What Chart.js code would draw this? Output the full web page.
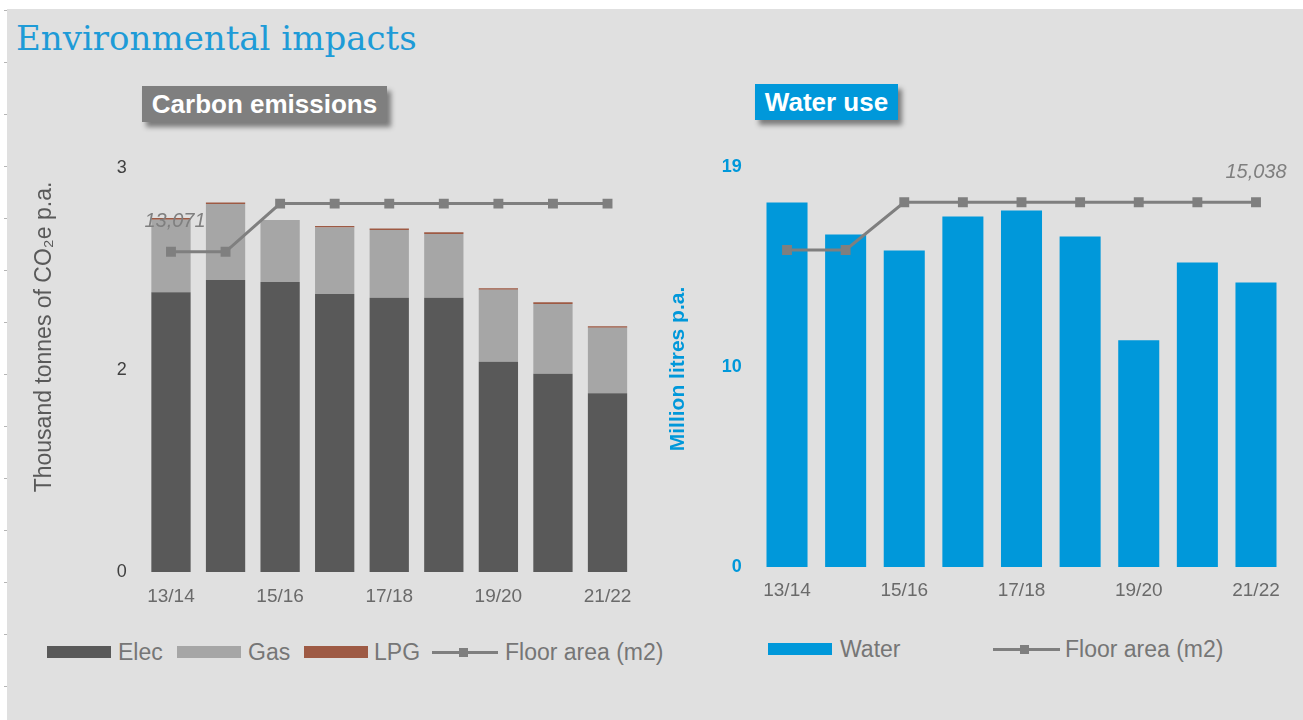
<!DOCTYPE html>
<html><head><meta charset="utf-8">
<script src="https://cdn.jsdelivr.net/npm/chart.js@4.4.0/dist/chart.umd.min.js"></script>
<style>
body{margin:0;width:1303px;height:720px;background:#fff;overflow:hidden;font-family:"Liberation Sans",Arial,sans-serif;position:relative}
#bg{position:absolute;left:7px;top:9px;right:0;bottom:0;background:#e0e0e0}
.tk{position:absolute;left:4px;width:3px;height:1px;background:#b5b5b5}
#title{position:absolute;left:16px;top:18px;font-family:"DejaVu Serif",serif;font-size:34px;line-height:40px;color:#1e9bd7;white-space:nowrap}
.hdr{position:absolute;color:#fff;font-weight:bold;box-shadow:4px 5px 5px rgba(0,0,0,0.45);white-space:nowrap;text-align:center;font-size:26px;height:36px;line-height:36px}
#h1{left:142px;top:86px;width:245px;background:#7f7f7f}
#h2{left:755px;top:84px;width:143px;background:#0098da}
canvas{position:absolute}
.lt{position:absolute;font-size:23px;line-height:24px;color:#767676;white-space:nowrap}
.sw{position:absolute;height:12px;width:64px}
.ln{position:absolute;height:3px;background:#7f7f7f}
.mk{position:absolute;width:9px;height:9px;background:#7f7f7f}
</style>
</head><body>
<div id="bg"></div>
<div id="ticks"></div>
<div id="title">Environmental impacts</div>
<div class="hdr" id="h1">Carbon emissions</div>
<div class="hdr" id="h2">Water use</div>
<canvas id="c1" width="660" height="480" style="left:0;top:140px"></canvas>
<canvas id="c2" width="643" height="480" style="left:660px;top:140px"></canvas>

<!-- left legend -->
<div class="sw" style="left:47px;top:646px;background:#595959"></div><div class="lt" style="left:118px;top:640px">Elec</div>
<div class="sw" style="left:177px;top:646px;background:#a6a6a6"></div><div class="lt" style="left:248px;top:640px">Gas</div>
<div class="sw" style="left:304px;top:646px;background:#9e5a44"></div><div class="lt" style="left:374px;top:640px">LPG</div>
<div class="ln" style="left:432px;top:651px;width:66px"></div><div class="mk" style="left:459px;top:648px"></div><div class="lt" style="left:505px;top:640px">Floor area (m2)</div>
<!-- right legend -->
<div class="sw" style="left:768px;top:643px;background:#0098da"></div><div class="lt" style="left:840px;top:637px">Water</div>
<div class="ln" style="left:993px;top:648px;width:67px"></div><div class="mk" style="left:1020px;top:645px"></div><div class="lt" style="left:1065px;top:637px">Floor area (m2)</div>

<script>
const years = ['13/14','14/15','15/16','16/17','17/18','18/19','19/20','20/21','21/22'];
const elec = [2.076,2.168,2.153,2.064,2.035,2.035,1.561,1.472,1.326];
const gas = [0.539,0.563,0.460,0.492,0.503,0.474,0.533,0.518,0.486];
const lpg = [0.012,0.012,0,0.012,0.012,0.012,0.012,0.012,0.012];
const floorArea = [13071,13071,15038,15038,15038,15038,15038,15038,15038];
const water = [17.30,15.79,15.03,16.64,16.92,15.69,10.77,14.46,13.51];
const carbonTickLabels = ['0','2','3'];
const waterTickLabels = ['0','10','19'];

// left edge row marks
(function(){
  const t = document.getElementById('ticks');
  for (let y = 10; y < 720; y += 52) {
    const d = document.createElement('div'); d.className = 'tk'; d.style.top = y + 'px'; t.appendChild(d);
  }
})();

Chart.defaults.font.family = '"Liberation Sans", Arial, sans-serif';
Chart.defaults.animation = false;

const lineLabelPlugin = {
  id: 'lineLabel',
  afterDatasetsDraw(chart, args, opts) {
    const meta = chart.getDatasetMeta(opts.dataset);
    const pt = meta.data[opts.index];
    const v = chart.data.datasets[opts.dataset].data[opts.index];
    const ctx = chart.ctx;
    ctx.save();
    ctx.font = 'italic 20px "Liberation Sans", Arial, sans-serif';
    ctx.fillStyle = '#7f7f7f';
    ctx.textAlign = 'center';
    ctx.textBaseline = 'middle';
    ctx.fillText(v.toLocaleString('en-US'), pt.x + (opts.dx || 0), pt.y - 30);
    ctx.restore();
  }
};
const yTitlePlugin = {
  id: 'yTitle',
  afterDraw(chart, args, opts) {
    if (!opts.text) return;
    const ctx = chart.ctx;
    ctx.save();
    ctx.translate(opts.x, opts.y);
    ctx.rotate(-Math.PI / 2);
    ctx.font = opts.font;
    ctx.fillStyle = opts.color;
    ctx.textAlign = 'center';
    ctx.textBaseline = 'middle';
    ctx.fillText(opts.text, 0, 0);
    ctx.restore();
  }
};

const floorDataset = (data) => ({
  type: 'line', label: 'Floor area (m2)', data, yAxisID: 'y2', order: 0,
  borderColor: '#7f7f7f', backgroundColor: '#7f7f7f', borderWidth: 3,
  pointStyle: 'rect', pointRadius: 7, pointHoverRadius: 7, pointBorderWidth: 0, tension: 0
});

new Chart(document.getElementById('c1'), {
  type: 'bar',
  data: {
    labels: years,
    datasets: [
      floorDataset(floorArea),
      {label: 'Elec', data: elec, backgroundColor: '#595959', order: 1},
      {label: 'Gas', data: gas, backgroundColor: '#a6a6a6', order: 1},
      {label: 'LPG', data: lpg, backgroundColor: '#9e5a44', order: 1}
    ]
  },
  options: {
    responsive: false, devicePixelRatio: 1,
    layout: {padding: {top: 27, right: 25.2, left: 0, bottom: 0}},
    datasets: {bar: {categoryPercentage: 1, barPercentage: 0.72}},
    plugins: {
      legend: {display: false}, tooltip: {enabled: false},
      lineLabel: {dataset: 0, index: 0, dx: 4},
      yTitle: {text: 'Thousand tonnes of CO₂e p.a.', x: 45, y: 197, font: '23px "Liberation Sans", Arial, sans-serif', color: '#595959'}
    },
    scales: {
      x: {
        stacked: true,
        grid: {display: false, drawTicks: false}, border: {display: false},
        ticks: {autoSkip: false, maxRotation: 0, padding: 13, color: '#6a6a6a', font: {size: 19},
          callback: (v, i) => i % 2 === 0 ? years[i] : ''},
        afterFit: (s) => { s.height = 48; }
      },
      y: {
        stacked: true, min: 0, max: 3,
        grid: {display: false, drawTicks: false}, border: {display: false},
        ticks: {stepSize: 1.5, padding: 17, color: '#404040', font: {size: 18},
          callback: (v, i) => carbonTickLabels[i]},
        afterFit: (s) => { s.width = 143.7; }
      },
      y2: {display: false, min: 0, max: 16500}
    }
  },
  plugins: [lineLabelPlugin, yTitlePlugin]
});

new Chart(document.getElementById('c2'), {
  type: 'bar',
  data: {
    labels: years,
    datasets: [
      floorDataset(floorArea),
      {label: 'Water', data: water, backgroundColor: '#0098da', order: 1}
    ]
  },
  options: {
    responsive: false, devicePixelRatio: 1,
    layout: {padding: {top: 25, right: 17.7, left: 0, bottom: 0}},
    datasets: {bar: {categoryPercentage: 1, barPercentage: 0.70}},
    plugins: {
      legend: {display: false}, tooltip: {enabled: false},
      lineLabel: {dataset: 0, index: 8, dx: 0},
      yTitle: {text: 'Million litres p.a.', x: 18, y: 229, font: 'bold 21px "Liberation Sans", Arial, sans-serif', color: '#0098da'}
    },
    scales: {
      x: {
        grid: {display: false, drawTicks: false}, border: {display: false},
        ticks: {autoSkip: false, maxRotation: 0, padding: 12, color: '#6a6a6a', font: {size: 19},
          callback: (v, i) => i % 2 === 0 ? years[i] : ''},
        afterFit: (s) => { s.height = 53; }
      },
      y: {
        min: 0, max: 19,
        grid: {display: false, drawTicks: false}, border: {display: false},
        ticks: {stepSize: 9.5, padding: 16, color: '#0098da', font: {size: 18, weight: 'bold'},
          callback: (v, i) => waterTickLabels[i]},
        afterFit: (s) => { s.width = 97.7; }
      },
      y2: {display: false, min: 0, max: 16500}
    }
  },
  plugins: [lineLabelPlugin, yTitlePlugin]
});
</script>
</body></html>
